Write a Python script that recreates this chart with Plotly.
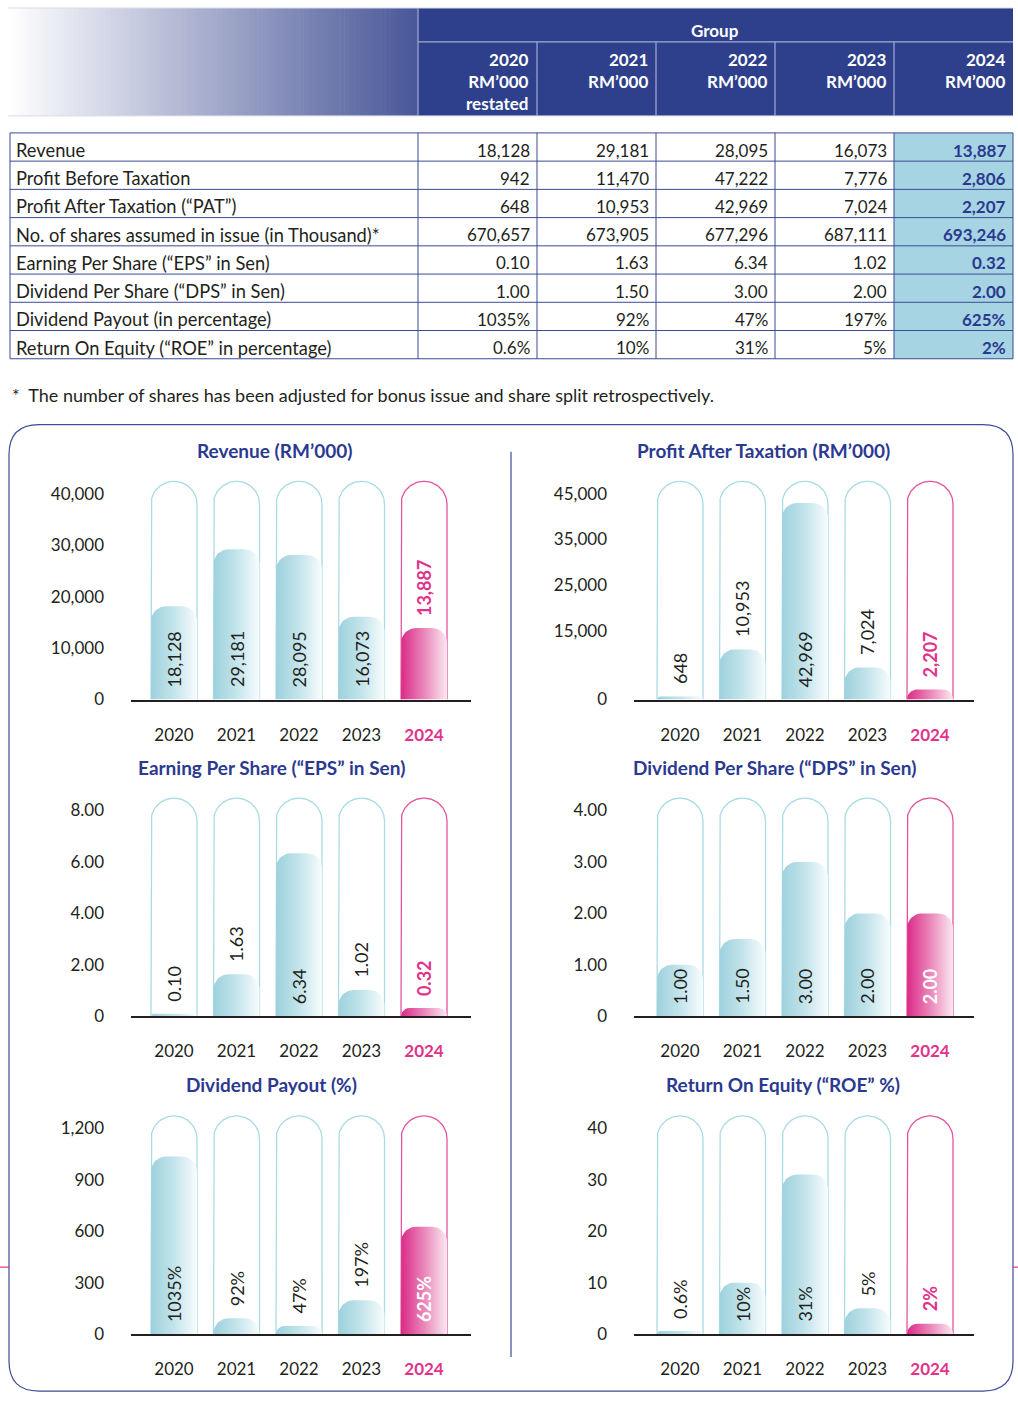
import numpy as np
import plotly.graph_objects as go

# ---------------- data ----------------
years = ["2020", "2021", "2022", "2023", "2024"]
header_notes = ["restated", "", "", "", ""]
row_labels = [
    "Revenue",
    "Profit Before Taxation",
    "Profit After Taxation (“PAT”)",
    "No. of shares assumed in issue (in Thousand)*",
    "Earning Per Share (“EPS” in Sen)",
    "Dividend Per Share (“DPS” in Sen)",
    "Dividend Payout (in percentage)",
    "Return On Equity (“ROE” in percentage)",
]
revenue_txt = ["18,128", "29,181", "28,095", "16,073", "13,887"]
pbt_txt = ["942", "11,470", "47,222", "7,776", "2,806"]
pat_txt = ["648", "10,953", "42,969", "7,024", "2,207"]
shares_txt = ["670,657", "673,905", "677,296", "687,111", "693,246"]
eps_txt = ["0.10", "1.63", "6.34", "1.02", "0.32"]
dps_txt = ["1.00", "1.50", "3.00", "2.00", "2.00"]
payout_txt = ["1035%", "92%", "47%", "197%", "625%"]
roe_txt = ["0.6%", "10%", "31%", "5%", "2%"]
table_rows = [revenue_txt, pbt_txt, pat_txt, shares_txt, eps_txt, dps_txt, payout_txt, roe_txt]

revenue = [18128, 29181, 28095, 16073, 13887]
pat = [648, 10953, 42969, 7024, 2207]
eps = [0.10, 1.63, 6.34, 1.02, 0.32]
dps = [1.00, 1.50, 3.00, 2.00, 2.00]
payout = [1035, 92, 47, 197, 625]
roe = [0.6, 10, 31, 5, 2]

revenue_ticks = [0, 10000, 20000, 30000, 40000]
revenue_ticktext = ["0", "10,000", "20,000", "30,000", "40,000"]
pat_ticks = [0, 15000, 25000, 35000, 45000]
pat_ticktext = ["0", "15,000", "25,000", "35,000", "45,000"]
eps_ticks = [0, 2, 4, 6, 8]
eps_ticktext = ["0", "2.00", "4.00", "6.00", "8.00"]
dps_ticks = [0, 1, 2, 3, 4]
dps_ticktext = ["0", "1.00", "2.00", "3.00", "4.00"]
payout_ticks = [0, 300, 600, 900, 1200]
payout_ticktext = ["0", "300", "600", "900", "1,200"]
roe_ticks = [0, 10, 20, 30, 40]
roe_ticktext = ["0", "10", "20", "30", "40"]

footnote = "*\u00a0 The number of shares has been adjusted for bonus issue and share split retrospectively."

# ---------------- style ----------------
W, H = 1018, 1402
YK = 1.0065  # vertical layout stretch
FONT = "Lato"
NAVY = "#2e3f8b"
TITLE_NAVY = "#2b3990"
MAGENTA = "#e0338a"
TEXT = "#231f20"
TEAL_LINE = "#a9dbe5"
PINK_LINE = "#e2559e"
TEAL_SCALE = [[0, "#9dd1dd"], [0.5, "#c3e4eb"], [1, "#f8fcfd"]]
PINK_SCALE = [[0, "#db2a87"], [0.5, "#ea86b9"], [1, "#fbe8f1"]]

fig = go.Figure()


def fx(p):
    return p / W


def fy(p):
    return max(0.0, 1 - p * YK / H)


shapes = []
annotations = []


def hline(y, xa, xb, color, width=1):
    shapes.append(dict(type="line", xref="paper", yref="paper", x0=fx(xa), x1=fx(xb),
                       y0=fy(y), y1=fy(y), line=dict(color=color, width=width)))


def vline(x, ya, yb, color, width=1):
    shapes.append(dict(type="line", xref="paper", yref="paper", x0=fx(x), x1=fx(x),
                       y0=fy(ya), y1=fy(yb), line=dict(color=color, width=width)))


def note(x, y, text, size=17, color=TEXT, xanchor="center", yanchor="middle", **kw):
    annotations.append(dict(xref="paper", yref="paper", x=fx(x), y=fy(y), text=text,
                            xanchor=xanchor, yanchor=yanchor, showarrow=False,
                            font=dict(family=FONT, size=size, color=color), **kw))


# ---------------- table header ----------------
n = 100
gx0, gx1 = 8, 418
c0 = np.array([255, 255, 255])
c1 = np.array([0x4a, 0x58, 0x99])
for k in range(n):
    t = k / (n - 1)
    col = (c0 + (c1 - c0) * t).astype(int)
    xa = gx0 + (gx1 - gx0) * k / n
    xb = gx0 + (gx1 - gx0) * (k + 1) / n + 0.6
    shapes.append(dict(type="rect", xref="paper", yref="paper", x0=fx(xa), x1=fx(xb),
                       y0=fy(116), y1=fy(8), fillcolor="rgb(%d,%d,%d)" % tuple(col),
                       line=dict(width=0), layer="below"))
shapes.append(dict(type="rect", xref="paper", yref="paper", x0=fx(418), x1=fx(1013),
                   y0=fy(116), y1=fy(8), fillcolor=NAVY, line=dict(width=0), layer="below"))
hline(8, 8, 1013, "#d9dce8", 1)
hline(116, 8, 1013, "#d9dce8", 1)
hline(42, 418, 1013, "#a3acd3", 1.2)
vline(418, 8, 116, "#a3acd3", 1.2)
col_edges = [418, 537, 656, 775, 894, 1013]
for xe in col_edges[1:-1]:
    vline(xe, 42, 116, "#a3acd3", 1.2)

note(715, 31, "<b>Group</b>", color="white")
for i, yr in enumerate(years):
    lines = [yr, "RM’000"] + ([header_notes[i]] if header_notes[i] else [])
    note(col_edges[i + 1] - 6, 47, "<b>" + "<br>".join(lines) + "</b>", color="white",
         xanchor="right", yanchor="top", align="right")

# ---------------- table body ----------------
ty0, ty1 = 133, 359
rh = (ty1 - ty0) / len(row_labels)
shapes.append(dict(type="rect", xref="paper", yref="paper", x0=fx(894), x1=fx(1013),
                   y0=fy(ty1), y1=fy(ty0), fillcolor="#a6d4e2", line=dict(width=0), layer="below"))
for r in range(len(row_labels) + 1):
    hline(ty0 + r * rh, 10, 1013, "#3b4a93", 1)
for xe in [10] + col_edges:
    vline(xe, ty0, ty1, "#3b4a93", 1)
for r, lab in enumerate(row_labels):
    yc = ty0 + rh * (r + 0.5) + 3
    note(14, yc, lab, size=18.3, xanchor="left")
    for c, val in enumerate(table_rows[r]):
        last = c == len(years) - 1
        note(col_edges[c + 1] - 5, yc, ("<b>%s</b>" % val) if last else val,
             color=TITLE_NAVY if last else TEXT, xanchor="right")

note(10, 395, footnote, size=18, xanchor="left")


# ---------------- chart frame ----------------
def rrect_path(xa, ya, xb, yb, r):
    return (f"M {fx(xa + r)},{fy(ya)} L {fx(xb - r)},{fy(ya)} Q {fx(xb)},{fy(ya)} {fx(xb)},{fy(ya + r)} "
            f"L {fx(xb)},{fy(yb - r)} Q {fx(xb)},{fy(yb)} {fx(xb - r)},{fy(yb)} "
            f"L {fx(xa + r)},{fy(yb)} Q {fx(xa)},{fy(yb)} {fx(xa)},{fy(yb - r)} "
            f"L {fx(xa)},{fy(ya + r)} Q {fx(xa)},{fy(ya)} {fx(xa + r)},{fy(ya)} Z")


shapes.append(dict(type="path", xref="paper", yref="paper", path=rrect_path(9, 425, 1013, 1392, 30),
                   line=dict(color="#3d4b94", width=1.2)))
vline(511, 452, 1358, "#3d4b94", 1.2)
hline(1268, 0, 9, MAGENTA, 1.2)
hline(1268, 1013, 1018, MAGENTA, 1.2)

# ---------------- charts ----------------
charts = [
    ("Revenue (RM’000)", revenue, revenue_txt, revenue_ticks, revenue_ticktext, 0, 0),
    ("Profit After Taxation (RM’000)", pat, pat_txt, pat_ticks, pat_ticktext, 1, 0),
    ("Earning Per Share (“EPS” in Sen)", eps, eps_txt, eps_ticks, eps_ticktext, 0, 1),
    ("Dividend Per Share (“DPS” in Sen)", dps, dps_txt, dps_ticks, dps_ticktext, 1, 1),
    ("Dividend Payout (%)", payout, payout_txt, payout_ticks, payout_ticktext, 0, 2),
    ("Return On Equity (“ROE” %)", roe, roe_txt, roe_ticks, roe_ticktext, 1, 2),
]
row_base = [700, 1017, 1335]
col_geo = [(131, 471, 174), (634, 974, 680)]
title_x = [274, 763, 271, 774, 271, 783]
title_y = [451, 768, 1085]
SPACING = 62.5
TOP_PX = 206
RANGE_K = 1.12
CAP_K = 1.06
HW_PX = 23
BAR_R_PX = 15
LABEL_FS = 18

year_ticktext = years[:-1] + ["<b><span style='color:%s'>%s</span></b>" % (MAGENTA, years[-1])]


def text_px(s, fs):
    w = 0
    for ch in s:
        if ch.isdigit():
            w += 0.58 * fs
        elif ch in ",.":
            w += 0.24 * fs
        elif ch == "%":
            w += 0.82 * fs
        else:
            w += 0.5 * fs
    return w


layout_axes = {}
for k, (title, vals, labels, tvals, ttext, col, row) in enumerate(charts):
    idx = k + 1
    xa_name = "x" if idx == 1 else "x%d" % idx
    ya_name = "y" if idx == 1 else "y%d" % idx
    lpx, rpx, c0px = col_geo[col]
    base = row_base[row]
    top_tick = tvals[-1]
    yr_max = top_tick * RANGE_K
    sx = SPACING  # px per category unit
    sy = TOP_PX * YK / top_tick  # px per value unit

    layout_axes["xaxis" + ("" if idx == 1 else str(idx))] = dict(
        domain=[fx(lpx), fx(rpx)], range=[(lpx - c0px) / SPACING, (rpx - c0px) / SPACING],
        anchor=ya_name, tickvals=list(range(len(years))), ticktext=year_ticktext,
        showgrid=False, zeroline=False, showline=True, linecolor=TEXT, linewidth=1.5,
        ticks="", ticklabelstandoff=19, tickfont=dict(family=FONT, size=17, color=TEXT),
        fixedrange=True)
    layout_axes["yaxis" + ("" if idx == 1 else str(idx))] = dict(
        domain=[fy(base), fy(base - TOP_PX * RANGE_K)], range=[0, yr_max], anchor=xa_name,
        tickvals=tvals, ticktext=ttext, showgrid=False, zeroline=False, showline=False,
        ticks="", ticklabelstandoff=26, tickfont=dict(family=FONT, size=17, color=TEXT),
        fixedrange=True)

    hw = HW_PX / sx
    for i, v in enumerate(vals):
        is_last = i == len(vals) - 1
        # capsule outline
        cap_h = max(top_tick * CAP_K, v + 0.1 * top_tick)
        ry = HW_PX / sy
        xs = [i - hw, i - hw]
        ys = [0, cap_h - ry]
        for t in np.linspace(np.pi, 0, 40):
            xs.append(i + hw * np.cos(t))
            ys.append(cap_h - ry + ry * np.sin(t))
        xs += [i + hw]
        ys += [0]
        fig.add_trace(go.Scatter(x=xs, y=ys, mode="lines", xaxis=xa_name, yaxis=ya_name,
                                 line=dict(color=PINK_LINE if is_last else TEAL_LINE, width=1.3),
                                 hoverinfo="skip", showlegend=False))
        # value bar with rounded top and horizontal gradient
        hpx = v * sy
        r = min(BAR_R_PX, hpx)
        rx = r / sx
        ryb = r / sy
        bx = [i - hw, i - hw]
        by = [0, v - ryb]
        for t in np.linspace(np.pi, np.pi / 2, 14):
            bx.append(i - hw + rx + rx * np.cos(t))
            by.append(v - ryb + ryb * np.sin(t))
        for t in np.linspace(np.pi / 2, 0, 14):
            bx.append(i + hw - rx + rx * np.cos(t))
            by.append(v - ryb + ryb * np.sin(t))
        bx += [i + hw, i - hw]
        by += [0, 0]
        fig.add_trace(go.Scatter(x=bx, y=by, mode="lines", fill="toself", xaxis=xa_name,
                                 yaxis=ya_name, line=dict(width=0),
                                 fillgradient=dict(type="horizontal",
                                                   colorscale=PINK_SCALE if is_last else TEAL_SCALE),
                                 hoverinfo="skip", showlegend=False))
        # value label
        inside = text_px(labels[i], LABEL_FS) <= 0.72 * hpx
        if is_last:
            color = "white" if inside else MAGENTA
            txt = "<b>%s</b>" % labels[i]
        else:
            color = TEXT
            txt = labels[i]
        annotations.append(dict(xref=xa_name, yref=ya_name, x=i, y=0 if inside else v,
                                yanchor="bottom", xanchor="center", yshift=11, textangle=-90,
                                text=txt, showarrow=False, borderpad=0,
                                font=dict(family=FONT, size=LABEL_FS, color=color)))

    note(title_x[k], title_y[row], "<b>%s</b>" % title, size=19, color=TITLE_NAVY)

fig.update_layout(
    width=W, height=H, margin=dict(l=0, r=0, t=0, b=0),
    paper_bgcolor="white", plot_bgcolor="rgba(0,0,0,0)",
    shapes=shapes, annotations=annotations, showlegend=False,
    font=dict(family=FONT, color=TEXT),
    **layout_axes,
)

post = """
(function(){
  var de = document.documentElement, b = document.body;
  [de, b].forEach(function(e){ e.style.margin='0'; e.style.padding='0';
      e.style.height='1402px'; e.style.overflow='hidden'; });
  var g = document.getElementsByClassName('plotly-graph-div')[0];
  if (g && g.parentElement) { g.parentElement.style.height='1402px';
      g.parentElement.style.overflow='hidden'; g.parentElement.style.lineHeight='0'; }
})();
"""
fig.write_html("out.html", config={"displayModeBar": False}, post_script=post)
